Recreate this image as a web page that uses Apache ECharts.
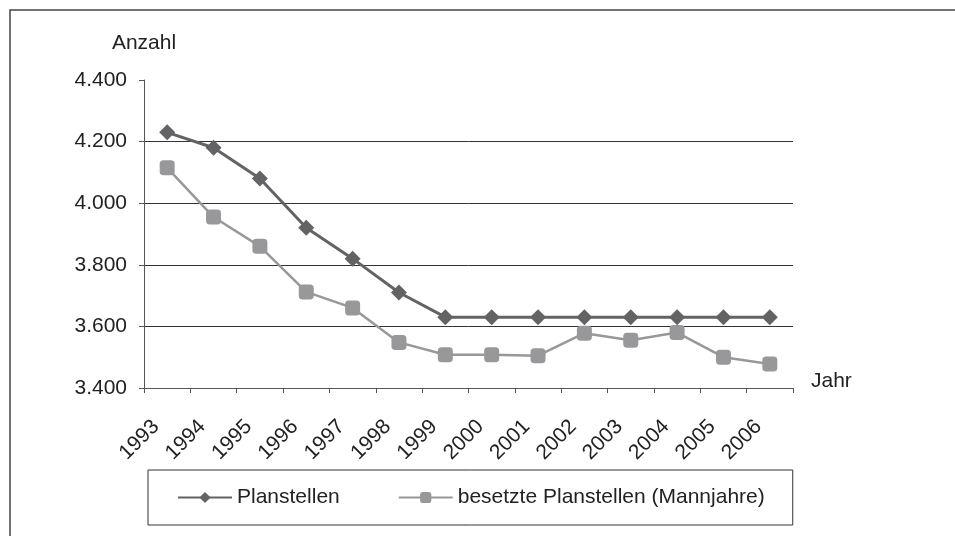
<!DOCTYPE html>
<html>
<head>
<meta charset="utf-8">
<script src="https://cdn.jsdelivr.net/npm/echarts@6/dist/echarts.min.js"></script>
<style>
  html, body { margin: 0; padding: 0; background: #fff; }
  #chart { width: 955px; height: 536px; }
</style>
</head>
<body>
<div id="chart"></div>
<script>
var years = ['1993', '1994', '1995', '1996', '1997', '1998', '1999', '2000', '2001', '2002', '2003', '2004', '2005', '2006']
var planstellen = [4230, 4180, 4080, 3920, 3820, 3710, 3630, 3630, 3630, 3630, 3630, 3630, 3630, 3630]
var besetzte = [4115, 3955, 3860, 3712, 3660, 3548, 3508, 3508, 3505, 3578, 3555, 3580, 3500, 3478]
var seriesNames = ['Planstellen', 'besetzte Planstellen (Mannjahre)']

var font = 'Liberation Sans, Arial, sans-serif'

var chart = echarts.init(document.getElementById('chart'))

var option = {
  backgroundColor: '#fff',
  animation: false,
  graphic: [{
    type: 'rect',
    shape: { x: 10, y: 10, width: 1000, height: 1000 },
    style: { fill: 'none', stroke: '#444', lineWidth: 1.5 },
    silent: true
  }],
  grid: { left: 144, right: 162, top: 80, bottom: 148 },
  legend: {
    left: 148,
    top: 470,
    orient: 'horizontal',
    data: seriesNames,
    itemWidth: 54,
    itemHeight: 14,
    itemGap: 58,
    padding: [17, 28, 17, 29],
    borderColor: '#333',
    borderWidth: 1,
    textStyle: { fontFamily: font, fontSize: 21, color: '#222' }
  },
  xAxis: {
    type: 'category',
    data: years,
    boundaryGap: true,
    name: 'Jahr',
    nameLocation: 'end',
    nameGap: 18,
    nameTextStyle: { fontFamily: font, fontSize: 21, color: '#222', verticalAlign: 'bottom', align: 'left', lineHeight: 14 },
    axisLine: { lineStyle: { color: '#555', width: 1 } },
    axisTick: { show: true, length: 5, lineStyle: { color: '#555' } },
    axisLabel: { rotate: 45, margin: 24, padding: [0, 16, 0, 0], fontFamily: font, fontSize: 21, color: '#222', interval: 0 },
    splitLine: { show: false }
  },
  yAxis: {
    type: 'value',
    min: 3400,
    max: 4400,
    interval: 200,
    name: 'Anzahl',
    nameLocation: 'end',
    nameGap: 26,
    nameTextStyle: { fontFamily: font, fontSize: 21, color: '#222', align: 'center' },
    axisLine: { show: true, lineStyle: { color: '#555', width: 1 } },
    axisTick: { show: true, length: 5, inside: false, lineStyle: { color: '#555' } },
    axisLabel: {
      margin: 17,
      fontFamily: font,
      fontSize: 21,
      color: '#222',
      formatter: function (v) { return (v / 1000).toFixed(3) }
    },
    splitLine: {
      show: true,
      // no gridline at the top value (4.400)
      lineStyle: { color: ['#333', '#333', '#333', '#333', '#333', 'rgba(0,0,0,0)'], width: 1 }
    }
  },
  series: [{
    name: seriesNames[0],
    type: 'line',
    data: planstellen,
    symbol: 'diamond',
    symbolSize: 16,
    color: '#636365',
    lineStyle: { color: '#636365', width: 3 },
    itemStyle: { color: '#636365' },
    z: 3
  }, {
    name: seriesNames[1],
    type: 'line',
    data: besetzte,
    symbol: 'roundRect',
    symbolSize: 15,
    color: '#98989a',
    lineStyle: { color: '#98989a', width: 2.5 },
    itemStyle: { color: '#98989a' },
    z: 2
  }]
}

chart.setOption(option)
</script>
</body>
</html>
